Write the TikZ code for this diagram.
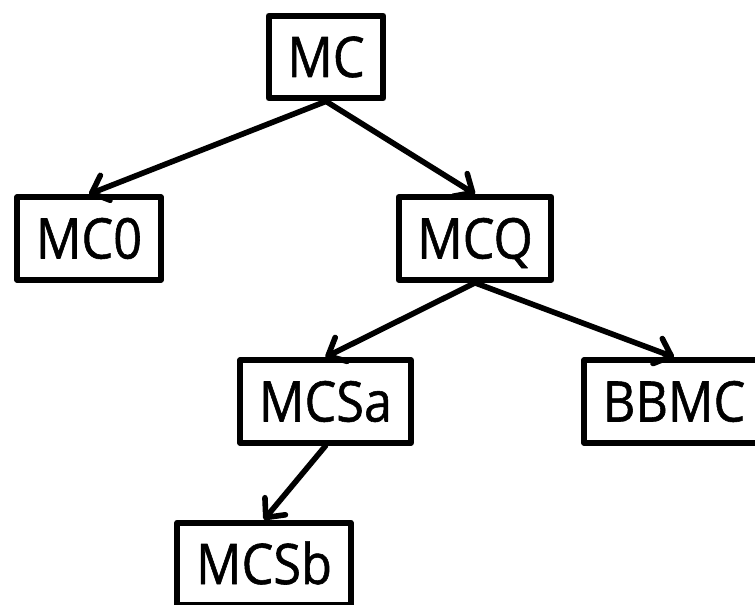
\documentclass[tikz,border=0pt]{standalone}
\usepackage{fontspec}
\setmainfont{Open Sans}[FakeStretch=0.9,FakeBold=1]
\usetikzlibrary{arrows.meta}

\begin{document}
\begin{tikzpicture}[x=0.75pt,y=-0.75pt,
    classe/.style={draw, line width=4.5pt, line join=round, minimum height=62pt,
        inner xsep=14pt, text height=30pt, text depth=0pt,
        font=\fontsize{42}{42}\selectfont},
    freccia/.style={line width=4.2pt, line cap=round,
        -{Straight Barb[length=11pt,width=20pt,line join=round,line cap=round]}}]
    \useasboundingbox (0,0) rectangle (755,605);

    \node[classe] (mc) at (326,57) {MC};

    \node[classe] (mc0) at (89,238.5) {MC0};
    \node[classe] (mcq) at (475,238.5) {MCQ};

    \node[classe] (mcsa) at (325.5,401.5) {MCSa};
    \node[classe] (bbmc) at (674,401.5) {BBMC};

    \node[classe] (mcsb) at (264,564) {MCSb};

    \draw[freccia] (mc.south) -- (mc0.north);
    \draw[freccia] (mc.south) -- (mcq.north);
    \draw[freccia] (mcq.south) -- (mcsa.north);
    \draw[freccia] (mcq.south) -- (bbmc.north);
    \draw[freccia] (mcsa.south) -- (mcsb.north);
\end{tikzpicture}
\end{document}
